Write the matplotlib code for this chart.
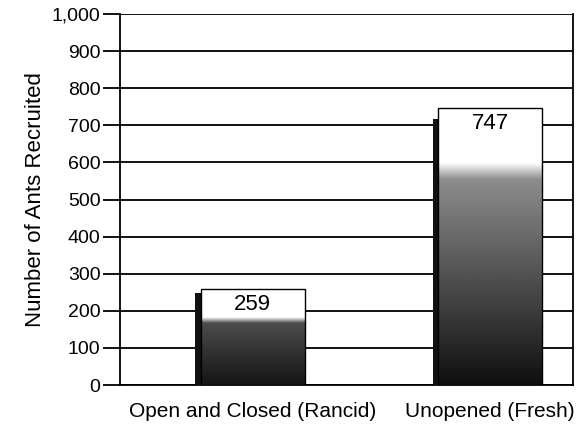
import matplotlib
matplotlib.use("Agg")
import matplotlib.pyplot as plt
import numpy as np
from matplotlib.patches import Rectangle

categories = ["Open and Closed (Rancid)", "Unopened (Fresh)"]
values = [259, 747]
yticks = list(range(0, 1001, 100))
ytick_labels = ["0", "100", "200", "300", "400", "500", "600", "700", "800", "900", "1,000"]

plt.rcParams['font.family'] = ['Liberation Sans', 'DejaVu Sans']

fig = plt.figure(figsize=(5.82, 4.38), dpi=100)
ax = fig.add_axes([0.206, 0.121, 0.779, 0.847])
ax.set_xlim(-0.56, 1.35)
ax.set_ylim(0, 1000)

for y in yticks:
    ax.axhline(y, color="black", lw=1.3, zorder=1)


def gradient(white_frac, start_gray, end_gray, n=300):
    frac = np.linspace(0, 1, n)
    ramp = 0.06
    g = np.where(frac < white_frac, 1.0,
                 np.where(frac < white_frac + ramp,
                          1.0 - (frac - white_frac) / ramp * (1.0 - start_gray),
                          start_gray - (frac - white_frac - ramp) / (1 - white_frac - ramp)
                          * (start_gray - end_gray)))
    return np.repeat(g[:, None], 2, axis=1)


grad_params = [(0.30, 0.30, 0.08), (0.20, 0.55, 0.06)]

width = 0.44
side = 0.022
for i, v in enumerate(values):
    x0 = i - width / 2
    ax.add_patch(Rectangle((x0 - side, 0), side, v * 0.96, facecolor="#111111",
                           edgecolor="none", zorder=3))
    rect = Rectangle((x0, 0), width, v, facecolor="none", edgecolor="black",
                     lw=1.0, zorder=5)
    ax.add_patch(rect)
    im = ax.imshow(gradient(*grad_params[i]), extent=(x0, x0 + width, 0, v),
                   aspect="auto", cmap="gray", vmin=0, vmax=1, zorder=4,
                   interpolation="bilinear")
    im.set_clip_path(rect)
    ax.text(i, v - 42, f"{v}", ha="center", va="center", fontsize=16, zorder=6)

ax.set_xticks([0, 1])
ax.set_xticklabels(categories, fontsize=15)
ax.set_yticks(yticks)
ax.set_yticklabels(ytick_labels, fontsize=14)
ax.tick_params(axis="y", length=12, width=1.3, pad=2)
ax.tick_params(axis="x", length=0, pad=12)
ax.set_ylabel("Number of Ants Recruited", fontsize=16, labelpad=4)
for s in ax.spines.values():
    s.set_linewidth(1.3)
ax.spines["top"].set_visible(False)

fig.savefig("out.png", dpi=100)
